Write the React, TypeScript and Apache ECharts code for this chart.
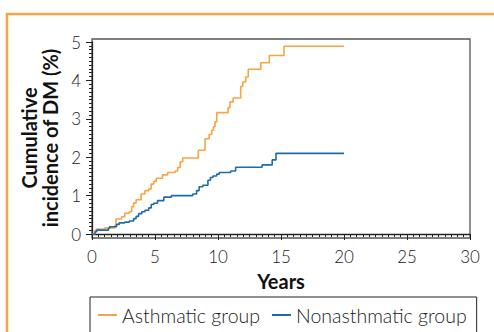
import React, { useEffect, useRef } from "react";
import * as echarts from "echarts";

const seriesNames = ["Asthmatic group", "Nonasthmatic group"];
const xTicks = [0, 5, 10, 15, 20, 25, 30];
const yTicks = [0, 1, 2, 3, 4, 5];

const asthmatic: [number, number][] = [
  [0, 0], [0.24, 0.1], [0.37, 0.13], [1.03, 0.16], [1.83, 0.23], [1.9, 0.39],
  [2.35, 0.45], [2.6, 0.54], [2.96, 0.58], [3.15, 0.71], [3.3, 0.81], [3.5, 0.89],
  [3.9, 1.04], [4.2, 1.13], [4.5, 1.17], [4.7, 1.3], [4.9, 1.37], [5.1, 1.45],
  [5.6, 1.54], [6.0, 1.6], [6.6, 1.64], [6.8, 1.73], [7.0, 1.88], [7.2, 1.98],
  [8.44, 2.18], [8.97, 2.48], [9.3, 2.59], [9.5, 2.7], [9.63, 2.8], [9.76, 2.92],
  [9.9, 3.16], [10.8, 3.29], [10.95, 3.44], [11.2, 3.54], [11.8, 3.84], [11.96, 3.96],
  [12.2, 4.09], [12.4, 4.29], [13.4, 4.46], [14.07, 4.65], [15.24, 4.89], [20.0, 4.89],
];

const nonasthmatic: [number, number][] = [
  [0, 0], [0.24, 0.06], [0.37, 0.1], [1.3, 0.15], [1.4, 0.19], [1.95, 0.25],
  [2.16, 0.29], [2.6, 0.31], [2.96, 0.34], [3.3, 0.4], [3.5, 0.46], [3.7, 0.53],
  [3.95, 0.58], [4.2, 0.62], [4.5, 0.68], [4.7, 0.77], [4.9, 0.8], [5.2, 0.87],
  [5.7, 0.96], [6.3, 1.0], [8.0, 1.04], [8.3, 1.13], [8.5, 1.23], [8.8, 1.27],
  [9.2, 1.4], [9.4, 1.47], [9.6, 1.51], [9.9, 1.56], [10.1, 1.6], [11.0, 1.64],
  [11.4, 1.74], [13.5, 1.8], [14.3, 1.93], [14.6, 2.1], [20.0, 2.1],
];

const ORANGE = "#f7a443";
const BLUE = "#1f6cab";
const FONT = "Lato, 'Open Sans', sans-serif";

export default function App() {
  const ref = useRef<HTMLDivElement>(null);
  useEffect(() => {
    if (!ref.current) return;
    const chart = echarts.init(ref.current, undefined, { renderer: "svg" });
    const gl = 92, gr = 470, gt = 42, gb = 234;
    chart.setOption({
      animation: false,
      backgroundColor: "#fff",
      grid: { left: gl, right: 494 - gr, top: gt, bottom: 332 - gb },
      xAxis: {
        type: "value",
        min: xTicks[0],
        max: xTicks[xTicks.length - 1],
        interval: 5,
        offset: 4,
        name: "Years",
        nameLocation: "middle",
        nameGap: 33,
        nameTextStyle: { fontFamily: FONT, fontWeight: "bold", fontSize: 20, color: "#111" },
        axisLine: { lineStyle: { color: "#222", width: 1.3 } },
        axisTick: { show: true, length: 6, lineStyle: { color: "#222" } },
        minorTick: { show: true, splitNumber: 10, length: 3, lineStyle: { color: "#222" } },
        splitLine: { show: false },
        axisLabel: { fontFamily: FONT, fontWeight: 300, fontSize: 17, color: "#222", margin: 10 },
      },
      yAxis: {
        type: "value",
        min: yTicks[0],
        max: yTicks[yTicks.length - 1],
        interval: 1,
        name: "Cumulative\nincidence of DM (%)",
        nameLocation: "middle",
        nameGap: 27,
        nameTextStyle: { fontFamily: FONT, fontWeight: "bold", fontSize: 20, color: "#111", lineHeight: 21 },
        axisLine: { show: true, lineStyle: { color: "#222", width: 1.3 } },
        axisTick: { show: true, length: 6, lineStyle: { color: "#222" } },
        minorTick: { show: true, splitNumber: 10, length: 3, lineStyle: { color: "#222" } },
        splitLine: { show: false },
        axisLabel: { fontFamily: FONT, fontWeight: 300, fontSize: 17, color: "#222", margin: 11 },
      },
      legend: {
        left: 90,
        top: 297,
        orient: "horizontal",
        borderColor: "#222",
        borderWidth: 1,
        borderRadius: 0,
        padding: [8, 10, 14, 8],
        itemGap: 12,
        itemWidth: 19,
        itemHeight: 2,
        icon: "rect",
        textStyle: { fontFamily: FONT, fontWeight: 300, fontSize: 19.5, color: "#222", padding: [0, 0, 0, 0] },
        data: seriesNames,
      },
      series: [
        {
          name: seriesNames[0],
          type: "line",
          step: "end",
          symbol: "none",
          data: asthmatic,
          lineStyle: { color: ORANGE, width: 1.6 },
          itemStyle: { color: ORANGE },
        },
        {
          name: seriesNames[1],
          type: "line",
          step: "end",
          symbol: "none",
          data: nonasthmatic,
          lineStyle: { color: BLUE, width: 1.6 },
          itemStyle: { color: BLUE },
        },
      ],
      graphic: [
        {
          type: "rect",
          shape: { x: gl, y: 39, width: gr - gl, height: 199 },
          style: { fill: "none", stroke: "#555", lineWidth: 1.3 },
          silent: true,
        },
        {
          type: "line",
          shape: { x1: 7, y1: 13, x2: 7, y2: 332 },
          style: { stroke: ORANGE, lineWidth: 2.5 },
          silent: true,
        },
        {
          type: "line",
          shape: { x1: 6, y1: 14, x2: 494, y2: 14 },
          style: { stroke: ORANGE, lineWidth: 2.5 },
          silent: true,
        },
      ],
    });
    return () => chart.dispose();
  }, []);
  return <div ref={ref} style={{ width: 494, height: 332, position: "absolute", left: 0, top: 0 }} />;
}
